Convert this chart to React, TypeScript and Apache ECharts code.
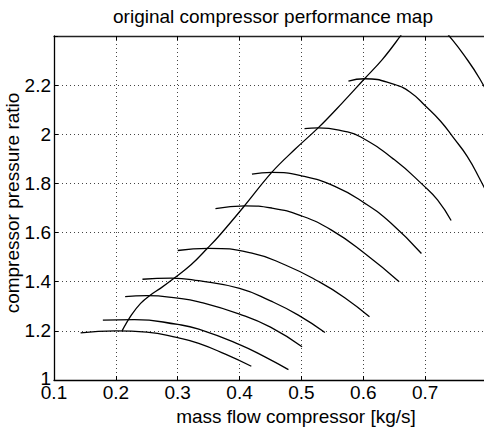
import React, { useEffect, useRef } from 'react';
import * as echarts from 'echarts';

const titleText = 'original compressor performance map';
const xName = 'mass flow compressor [kg/s]';
const yName = 'compressor pressure ratio';

// constant-speed lines: [mass flow, pressure ratio]
const speedLine1 = [[0.143, 1.192], [0.2, 1.2], [0.25, 1.195], [0.3, 1.172], [0.334, 1.149], [0.377, 1.105], [0.419, 1.056]];
const speedLine2 = [[0.179, 1.244], [0.23, 1.246], [0.3, 1.226], [0.334, 1.207], [0.4, 1.144], [0.441, 1.094], [0.479, 1.042]];
const speedLine3 = [[0.215, 1.339], [0.25, 1.343], [0.3, 1.333], [0.334, 1.318], [0.4, 1.268], [0.45, 1.215], [0.501, 1.135]];
const speedLine4 = [[0.243, 1.41], [0.29, 1.415], [0.334, 1.404], [0.4, 1.373], [0.45, 1.322], [0.495, 1.264], [0.538, 1.193]];
const speedLine5 = [[0.3, 1.527], [0.35, 1.536], [0.42, 1.516], [0.474, 1.468], [0.527, 1.402], [0.57, 1.335], [0.61, 1.257]];
const speedLine6 = [[0.361, 1.697], [0.409, 1.709], [0.452, 1.7], [0.5, 1.668], [0.548, 1.611], [0.602, 1.516], [0.658, 1.4]];
const speedLine7 = [[0.42, 1.838], [0.452, 1.845], [0.5, 1.831], [0.554, 1.788], [0.602, 1.72], [0.645, 1.638], [0.694, 1.515]];
const speedLine8 = [[0.505, 2.023], [0.527, 2.026], [0.57, 2.012], [0.596, 1.989], [0.65, 1.897], [0.698, 1.79], [0.72, 1.733], [0.742, 1.649]];
const speedLine9 = [[0.576, 2.216], [0.602, 2.226], [0.65, 2.203], [0.677, 2.169], [0.701, 2.114], [0.725, 2.053], [0.746, 1.985], [0.768, 1.91], [0.789, 1.815], [0.81, 1.71]];
const speedLine10 = [[0.73, 2.425], [0.738, 2.403], [0.762, 2.325], [0.789, 2.223], [0.81, 2.12]];

// surge line
const surgeLine = [[0.21, 1.2], [0.225, 1.264], [0.24, 1.312], [0.256, 1.346], [0.272, 1.373], [0.294, 1.414], [0.322, 1.47], [0.348, 1.536], [0.366, 1.584], [0.407, 1.706], [0.452, 1.845], [0.49, 1.94], [0.527, 2.026], [0.565, 2.125], [0.602, 2.226], [0.631, 2.305], [0.658, 2.393], [0.665, 2.42]];

const speedLines = [speedLine1, speedLine2, speedLine3, speedLine4, speedLine5, speedLine6, speedLine7, speedLine8, speedLine9, speedLine10];

const FONT = 'Liberation Sans, Arial, Helvetica, sans-serif';

export default function App() {
  const ref = useRef<HTMLDivElement>(null);
  useEffect(() => {
    const chart = echarts.init(ref.current!, null, { renderer: 'svg' });
    const lineStyle = { color: '#000', width: 1.3 };
    const series: any[] = speedLines.map((d, i) => ({
      type: 'line',
      name: 'speed' + (i + 1),
      data: d,
      smooth: 0.5,
      showSymbol: false,
      clip: true,
      lineStyle,
    }));
    series.push({
      type: 'line',
      name: 'surge',
      data: surgeLine,
      smooth: 0.4,
      showSymbol: false,
      clip: true,
      lineStyle,
    });
    const split = { show: true, lineStyle: { color: '#444', type: [1, 3], width: 1 } };
    chart.setOption({
      animation: false,
      backgroundColor: '#fff',
      textStyle: { fontFamily: FONT },
      grid: { left: 54, right: 0, top: 36, bottom: 48 },
      xAxis: [
        {
          type: 'value',
          min: 0.1,
          max: 0.8,
          interval: 0.1,
          position: 'bottom',
          axisLine: { show: true, lineStyle: { color: '#000', width: 1.3 } },
          axisTick: { show: true, inside: true, length: 4, lineStyle: { color: '#000' } },
          axisLabel: {
            color: '#000',
            fontSize: 19,
            lineHeight: 16,
            fontFamily: FONT,
            margin: 4,
            formatter: (v: number) => (v < 0.75 ? v.toFixed(1) : ''),
          },
          splitLine: split,
        },
        {
          type: 'value',
          min: 0.1,
          max: 0.8,
          interval: 0.1,
          position: 'top',
          axisLine: { show: true, lineStyle: { color: '#222', width: 1.3 } },
          axisTick: { show: true, inside: true, length: 4, lineStyle: { color: '#000' } },
          axisLabel: { show: false },
          splitLine: { show: false },
        },
      ],
      yAxis: {
        type: 'value',
        min: 1,
        max: 2.4,
        interval: 0.2,
        axisLine: { show: true, lineStyle: { color: '#000', width: 1.3 } },
        axisTick: { show: true, inside: true, length: 4, lineStyle: { color: '#000' } },
        axisLabel: {
          color: '#000',
          fontSize: 19,
          lineHeight: 16,
          fontFamily: FONT,
          margin: 3,
          formatter: (v: number) => {
            if (v > 2.3) return '';
            if (v < 1.05) return '{low|1}';
            return String(+v.toFixed(1));
          },
          rich: {
            low: { fontSize: 19, lineHeight: 14, fontFamily: FONT, color: '#000', padding: [0, 0, 4, 0] },
          },
        },
        splitLine: split,
      },
      graphic: [
        {
          type: 'text',
          x: 273,
          y: 16,
          style: { text: titleText, font: `19px ${FONT}`, fill: '#000', textAlign: 'center', textVerticalAlign: 'middle' },
        },
        {
          type: 'text',
          x: 296,
          y: 416,
          style: { text: xName, font: `19px ${FONT}`, fill: '#000', textAlign: 'center', textVerticalAlign: 'middle' },
        },
        {
          type: 'text',
          x: 12,
          y: 203,
          rotation: Math.PI / 2,
          style: { text: yName, font: `19px ${FONT}`, fill: '#000', textAlign: 'center', textVerticalAlign: 'middle' },
        },
      ],
      series,
    });
    return () => chart.dispose();
  }, []);
  return (
    <div
      ref={ref}
      style={{ position: 'fixed', left: 0, top: 0, width: 490, height: 428, background: '#fff' }}
    />
  );
}
